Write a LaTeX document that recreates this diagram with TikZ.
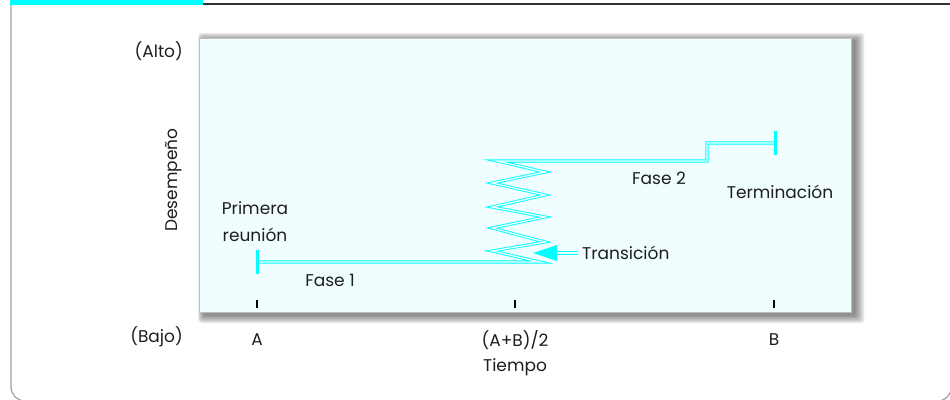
\documentclass[tikz,border=0pt]{standalone}
\usepackage{fontspec}
\setmainfont{Poppins}
\definecolor{panelbg}{RGB}{240,254,255}
\definecolor{aqua}{RGB}{0,255,255}
\definecolor{framegray}{RGB}{160,160,160}
\definecolor{txt}{RGB}{30,30,30}
\begin{document}
\begin{tikzpicture}[x=1pt,y=-1pt,
  lab/.style={font=\fontsize{17}{20}\selectfont, text=txt, inner sep=0pt, align=center},
  dbl/.style={draw=aqua, double=panelbg, double distance=1.3pt, line width=0.9pt},
  endtick/.style={draw=aqua, line width=3pt},
  axtick/.style={draw=black, line width=1.6pt}]
\useasboundingbox (0,0) rectangle (950,399);
\begin{scope}
\clip (0,0) rectangle (950,399);
% frame
\fill[aqua] (10,0) rectangle (203,5);
\draw[black!80, line width=1.5pt] (203,4) -- (950,4);
\draw[framegray, line width=1.2pt, rounded corners=14pt] (11,5) -- (11,401) -- (951.5,401) -- (951.5,5);
% panel shadow
\foreach \k in {0,1,2,3,4,5,6}{
  \fill[black, opacity=0.08, rounded corners=3pt] (199+4-\k*0.8, 38+2-\k*1.2) rectangle (851+5+\k*1.4, 312+4+\k*1.2);
}
\end{scope}
% panel
\draw[draw=black!25, fill=panelbg, line width=0.6pt] (199,38) rectangle (851,312);
% axis labels
\node[lab, anchor=east] (alto) at (183,51) {(Alto)};
\node[lab, anchor=east] (bajo) at (183,337) {(Bajo)};
\node[lab, rotate=90] (des) at (174,180) {Desempeño};
\node[lab] (la) at (257,340) {A};
\node[lab] (lab2) at (515,340) {(A+B)/2};
\node[lab] (lb) at (774,340) {B};
\node[lab] (tiempo) at (515,367) {Tiempo};
% axis ticks
\coordinate (ta1) at (257,300); \coordinate (ta2) at (257,308);
\coordinate (tm1) at (515,300); \coordinate (tm2) at (515,308);
\coordinate (tb1) at (774,300); \coordinate (tb2) at (774,308);
\draw[axtick] (ta1) -- (ta2);
\draw[axtick] (tm1) -- (tm2);
\draw[axtick] (tb1) -- (tb2);
% curve
\coordinate (p0) at (257,262);
\coordinate (p1) at (540,262);
\coordinate (q) at (707,161);
\coordinate (p9) at (774,143);
\draw[dbl] (p0) -- (p1) -- (492,251) -- (545,242) -- (492,228) -- (545,217) -- (492,207) -- (545,195) -- (492,183) -- (545,172) -- (497,161) -- (q) -- (707,143) -- (p9);
\draw[endtick] (257,250) -- (257,274);
\draw[endtick] (775,131) -- (775,155);
% labels
\node[lab, font=\fontsize{17}{27}\selectfont] (prim) at (255,222) {Primera\\reunión};
\node[lab] (f1) at (330,280) {Fase 1};
\node[lab] (f2) at (659,178) {Fase 2};
\node[lab] (term) at (780,192) {Terminación};
\node[lab, anchor=west] (trans) at (582,253) {Transición};
\coordinate (ab) at (557,253);
\draw[dbl] (trans.west) ++(-4,0) -- (ab);
\fill[aqua] (557,245) -- (533,253) -- (557,261) -- cycle;
\end{tikzpicture}
\end{document}
